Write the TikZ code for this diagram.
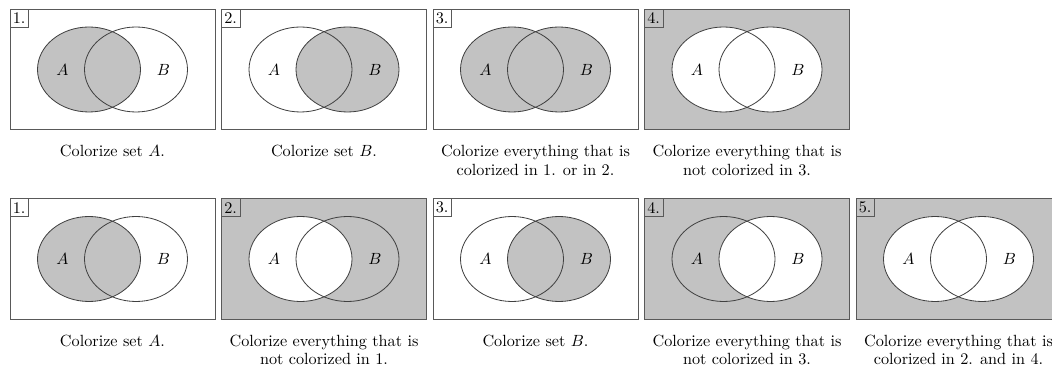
\documentclass[tikz,border=0pt]{standalone}
\definecolor{vgray}{gray}{0.76}
\tikzset{
  frame/.style={draw=black!65, line width=0.5pt, minimum width=126.5pt, minimum height=74.3pt, inner sep=0pt},
  setline/.style={draw=black!75, line width=0.5pt},
  numbox/.style={draw=black!65, line width=0.4pt, inner xsep=1.8pt, inner ysep=1.2pt, minimum height=11pt, anchor=north west},
  caption/.style={align=center, anchor=north, inner sep=0pt, font={\fontsize{10}{11.4}\selectfont}},
  setlabel/.style={inner sep=0pt}
}
% #1 name, #2 cx, #3 cy, #4 number, #5 outside, #6 A colour, #7 B colour, #8 intersection colour, #9 caption
\newcommand\vennpanel[9]{%
  \node[frame, fill=#5] (#1) at (#2,#3) {};
  \fill[#6] (#2-23.5,#3) ellipse [x radius=51.5, y radius=42.5];
  \fill[#7] (#2+23.5,#3) ellipse [x radius=51.5, y radius=42.5];
  \begin{scope}
    \clip (#2-23.5,#3) ellipse [x radius=51.5, y radius=42.5];
    \fill[#8] (#2+23.5,#3) ellipse [x radius=51.5, y radius=42.5];
  \end{scope}
  \draw[setline] (#2-23.5,#3) ellipse [x radius=51.5, y radius=42.5];
  \draw[setline] (#2+23.5,#3) ellipse [x radius=51.5, y radius=42.5];
  \node[setlabel] (#1A) at (#2-50,#3) {$A$};
  \node[setlabel] (#1B) at (#2+51,#3) {$B$};
  \node[numbox] (#1n) at (#1.north west) {#4.};
  \node[caption] (#1c) at (#2,#3+75.5) {#9};
}
\begin{document}
\begin{tikzpicture}[x=0.617pt,y=-0.617pt]
\clip (0,0) rectangle (1052,371);
\useasboundingbox (0,0) rectangle (1052,371);
% row 1
\vennpanel{pa}{112.5}{69.5}{1}{white}{vgray}{white}{vgray}{Colorize set $A$.}
\vennpanel{pb}{324}{69.5}{2}{white}{white}{vgray}{vgray}{Colorize set $B$.}
\vennpanel{pc}{535.5}{69.5}{3}{white}{vgray}{vgray}{vgray}{Colorize everything that is\\ colorized in 1. or in 2.}
\vennpanel{pd}{747}{69.5}{4}{vgray}{white}{white}{white}{Colorize everything that is\\ not colorized in 3.}
% row 2
\vennpanel{qa}{112.5}{259}{1}{white}{vgray}{white}{vgray}{Colorize set $A$.}
\vennpanel{qb}{324}{259}{2}{vgray}{white}{vgray}{white}{Colorize everything that is\\ not colorized in 1.}
\vennpanel{qc}{535.5}{259}{3}{white}{white}{vgray}{vgray}{Colorize set $B$.}
\vennpanel{qd}{747}{259}{4}{vgray}{vgray}{white}{white}{Colorize everything that is\\ not colorized in 3.}
\vennpanel{qe}{958.5}{259}{5}{vgray}{white}{white}{white}{Colorize everything that is\\ colorized in 2. and in 4.}
\end{tikzpicture}
\end{document}
